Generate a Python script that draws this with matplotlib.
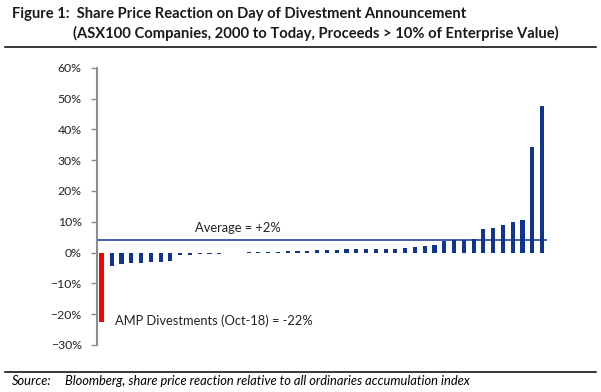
import matplotlib
matplotlib.use('Agg')
import matplotlib.pyplot as plt
from matplotlib.lines import Line2D
from matplotlib.ticker import PercentFormatter

plt.rcParams['font.family'] = ['Lato', 'DejaVu Sans']

# share price reaction (%) of each divestment, sorted; first one is AMP
amp_reaction = -22.4
reactions = [-4.3, -3.6, -3.4, -3.3, -3.1, -3.0, -2.6, -0.8, -0.7, -0.6,
             -0.6, -0.5, -0.2, -0.2, 0.15, 0.2, 0.2, 0.3, 0.4, 0.5,
             0.6, 0.7, 0.7, 0.8, 1.0, 1.1, 1.1, 1.2, 1.3, 1.3,
             1.6, 1.8, 2.2, 2.6, 3.9, 4.0, 4.1, 4.5, 7.7, 8.0,
             8.9, 9.9, 10.6, 34.2, 47.5]
avg_level = 4.0
y_ticks = [-30, -20, -10, 0, 10, 20, 30, 40, 50, 60]

blue = '#0f3591'
red = '#ff0000'

fig = plt.figure(figsize=(6.01, 3.92), dpi=100)
ax = fig.add_axes([97/601, 1-345/392, 450/601, (345-67.7)/392])

x_blue = list(range(1, len(reactions) + 1))
ax.bar(x_blue, reactions, width=0.42, color=blue, edgecolor='none')
ax.bar([0], [amp_reaction], width=0.52, color=red, edgecolor='none')
ax.axhline(avg_level, color=blue, lw=1.1)

ax.text(13.9, 7.9, 'Average = +2%', ha='center', va='center', fontsize=9.3, color='#222222')
ax.text(1.3, -22.0, 'AMP Divestments (Oct-18) = -22%', ha='left', va='center', fontsize=9.3, color='#222222')

ax.set_xlim(-0.5, len(reactions) + 0.5)
ax.set_ylim(-30, 60)
ax.set_yticks(y_ticks)
ax.yaxis.set_major_formatter(PercentFormatter(decimals=0))
ax.set_xticks([])
for side in ['top', 'right', 'bottom']:
    ax.spines[side].set_visible(False)
ax.spines['left'].set_color('#8c8c8c')
ax.spines['left'].set_linewidth(1.5)
ax.tick_params(axis='y', length=4, width=1, color='#8c8c8c', labelsize=8.8,
               labelcolor='#222222', pad=7)

# title block
fig.text(12/601, 1-14/392, 'Figure 1:  Share Price Reaction on Day of Divestment Announcement',
         fontsize=10.6, fontweight='bold', va='center', ha='left', color='#1a1a1a')
fig.text(73/601, 1-33/392, '(ASX100 Companies, 2000 to Today, Proceeds > 10% of Enterprise Value)',
         fontsize=10.6, fontweight='bold', va='center', ha='left', color='#1a1a1a')
fig.add_artist(Line2D([5/601, 596/601], [1-47/392, 1-47/392], color='black', lw=1.1))

# source
fig.add_artist(Line2D([5/601, 596/601], [1-372/392, 1-372/392], color='black', lw=1.1))
fig.text(12/601, 1-381/392, 'Source:', fontsize=9.3, style='italic', va='center', ha='left')
fig.text(65/601, 1-381/392, 'Bloomberg, share price reaction relative to all ordinaries accumulation index',
         fontsize=9.3, style='italic', va='center', ha='left')

fig.savefig('out.png', dpi=100)
